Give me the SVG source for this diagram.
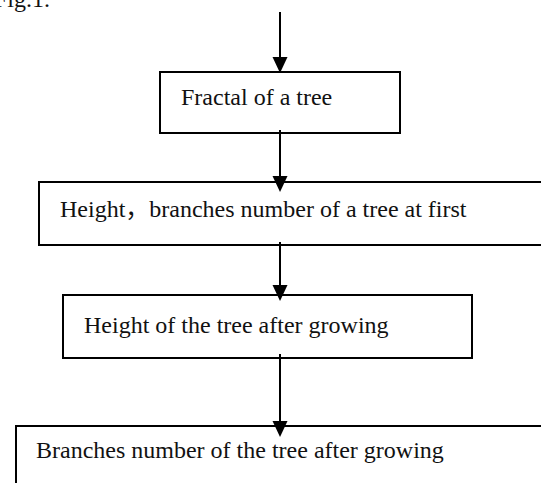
<svg xmlns="http://www.w3.org/2000/svg" width="541" height="483" viewBox="0 0 541 483">
<style>
.box{fill:#fff;stroke:#000;stroke-width:2}
.lbl{font-family:"Liberation Serif","Times New Roman","Noto Sans CJK SC",serif;font-size:24px;fill:#111}
.ln{stroke:#000;stroke-width:2;fill:none}
.hd{fill:#000;stroke:none}
</style>
<rect width="541" height="483" fill="#fff"/>
<text class="lbl" x="-6" y="7">Fig.1.</text>
<g id="n1"><rect class="box" x="160" y="72" width="240" height="61"/><text class="lbl" x="181" y="105">Fractal of a tree</text></g>
<g id="n2"><rect class="box" x="39" y="182" width="520" height="63"/><text class="lbl" x="60" y="217">Height，branches number of a tree at first</text></g>
<g id="n3"><rect class="box" x="63" y="295" width="409" height="63"/><text class="lbl" x="84" y="333">Height of the tree after growing</text></g>
<g id="n4"><rect class="box" x="16" y="426" width="540" height="80"/><text class="lbl" x="36" y="458">Branches number of the tree after growing</text></g>
<g id="edges">
<line class="ln" x1="280" y1="12" x2="280" y2="60"/><polygon class="hd" points="272.5,57 287.5,57 280,73"/>
<line class="ln" x1="280" y1="130" x2="280" y2="179"/><polygon class="hd" points="272.5,176 287.5,176 280,192"/>
<line class="ln" x1="280" y1="242" x2="280" y2="288"/><polygon class="hd" points="272.5,285 287.5,285 280,301"/>
<line class="ln" x1="280" y1="354" x2="280" y2="424"/><polygon class="hd" points="272.5,421 287.5,421 280,437"/>
</g>
</svg>
